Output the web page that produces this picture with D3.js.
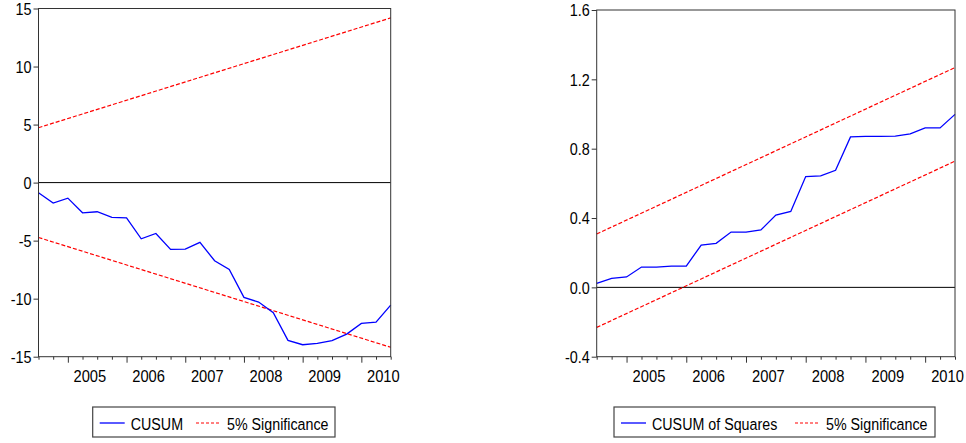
<!DOCTYPE html>
<html>
<head>
<meta charset="utf-8">
<script src="https://cdn.jsdelivr.net/npm/d3@7"></script>
<style>
  body { margin: 0; background: #fff; }
  text { font-family: "Liberation Sans", Arial, sans-serif; fill: #000; }
</style>
</head>
<body>
<div id="chart"></div>
<script>
// quarterly observations
var obs = ["2004Q3","2004Q4",
  "2005Q1","2005Q2","2005Q3","2005Q4",
  "2006Q1","2006Q2","2006Q3","2006Q4",
  "2007Q1","2007Q2","2007Q3","2007Q4",
  "2008Q1","2008Q2","2008Q3","2008Q4",
  "2009Q1","2009Q2","2009Q3","2009Q4",
  "2010Q1","2010Q2","2010Q3"];
var years = ["2005","2006","2007","2008","2009","2010"];

var cusum = [-0.88,-1.77,-1.34,-2.60,-2.51,-3.00,-3.03,-4.84,-4.38,-5.76,-5.73,-5.15,
  -6.73,-7.48,-9.89,-10.29,-11.21,-13.59,-13.97,-13.85,-13.62,-13.05,-12.13,-12.02,-10.55];
var cusumUpper = [4.73, 14.19];   // first obs, last obs
var cusumLower = [-4.73, -14.19];

var cusumSq = [0.023,0.052,0.060,0.117,0.117,0.123,0.123,0.244,0.254,0.319,0.319,0.331,
  0.417,0.438,0.639,0.643,0.675,0.868,0.871,0.871,0.873,0.885,0.920,0.920,0.998];
var sqUpper = [0.308, 1.268];
var sqLower = [-0.231, 0.728];

var cusumTicks = [-15,-10,-5,0,5,10,15];
var sqTicks = [-0.4,0.0,0.4,0.8,1.2,1.6];

var svg = d3.select("#chart").append("svg")
  .attr("width", 966).attr("height", 443);

// eviews text looks a bit condensed, squeeze it horizontally
function squeeze(sel, x, y, s) {
  sel.attr("x", 0).attr("y", 0)
    .attr("transform", "translate(" + x + "," + y + ") scale(" + s + ",1)");
}

// plain hyphen for negatives, like the original
function hyph(f) {
  return function(d) { return f(d).replace("\u2212", "-"); };
}

function panel(opt) {
  var g = svg.append("g");
  var x = d3.scalePoint().domain(obs).range([opt.left, opt.right]);
  var y = d3.scaleLinear().domain(opt.domain).range([opt.bottom, opt.top]);
  var step = x.step();

  // y axis
  var ya = g.append("g")
    .attr("transform", "translate(" + opt.left + ",0)")
    .call(d3.axisLeft(y).tickValues(opt.ticks).tickSize(5).tickFormat(opt.fmt));
  ya.select(".domain").remove();
  ya.selectAll("line").attr("stroke", "#333");
  ya.selectAll("text").style("font-size", "16px").attr("dy", "0.36em")
    .each(function() { squeeze(d3.select(this), -7, 0, 0.9); });

  // x axis ticks (minor every quarter, longer at Q1)
  var xa = g.append("g")
    .attr("transform", "translate(0," + opt.bottom + ")")
    .call(d3.axisBottom(x).tickValues(obs).tickSize(3).tickFormat(""));
  xa.select(".domain").remove();
  xa.selectAll(".tick line")
    .attr("stroke", "#333")
    .attr("y2", function(d) { return d.slice(4) == "Q1" ? 6 : 3; });

  g.selectAll(".yearlab").data(years).enter().append("text")
    .attr("class", "yearlab")
    .attr("text-anchor", "middle")
    .style("font-size", "16px")
    .text(function(d) { return d; })
    .each(function(d) { squeeze(d3.select(this), x(d + "Q1") + 1.5 * step, opt.bottom + 25, 0.92); });

  // zero line
  g.append("line")
    .attr("x1", opt.left).attr("x2", opt.right)
    .attr("y1", y(0)).attr("y2", y(0))
    .attr("stroke", "#000").attr("stroke-width", 1);

  var line = d3.line().x(function(d) { return x(d[0]); }).y(function(d) { return y(d[1]); });
  var first = obs[0], last = obs[obs.length - 1];

  [opt.upper, opt.lower].forEach(function(b) {
    g.append("path")
      .attr("d", line([[first, b[0]], [last, b[1]]]))
      .attr("fill", "none").attr("stroke", "#ff0000")
      .attr("stroke-width", 1.2).attr("stroke-dasharray", "4,2");
  });

  g.append("path")
    .attr("d", line(opt.series.map(function(v, i) { return [obs[i], v]; })))
    .attr("fill", "none").attr("stroke", "#0000ff").attr("stroke-width", 1.3);

  // frame
  g.append("rect")
    .attr("x", opt.left).attr("y", opt.top)
    .attr("width", opt.right - opt.left).attr("height", opt.bottom - opt.top)
    .attr("fill", "none").attr("stroke", "#333").attr("stroke-width", 1);

  // legend
  var lg = g.append("g");
  lg.append("rect")
    .attr("x", opt.leg.x).attr("y", 407)
    .attr("width", opt.leg.w).attr("height", 30)
    .attr("fill", "#fff").attr("stroke", "#444").attr("stroke-width", 1.2);
  lg.append("line")
    .attr("x1", opt.leg.x + 7).attr("x2", opt.leg.x + 32)
    .attr("y1", 423).attr("y2", 423)
    .attr("stroke", "#0000ff").attr("stroke-width", 1.3);
  lg.append("text")
    .style("font-size", "17px").text(opt.name)
    .call(squeeze, opt.leg.x + 38, 430, 0.84);
  lg.append("line")
    .attr("x1", opt.leg.r1).attr("x2", opt.leg.r1 + 24)
    .attr("y1", 423).attr("y2", 423)
    .attr("stroke", "#ff0000").attr("stroke-width", 1.2).attr("stroke-dasharray", "3,2");
  lg.append("text")
    .style("font-size", "17px").text("5% Significance")
    .call(squeeze, opt.leg.r1 + 31, 430, 0.84);
}

panel({
  left: 38.5, right: 390.7, top: 8.5, bottom: 356.7,
  domain: [-15, 15], ticks: cusumTicks, fmt: hyph(d3.format("d")),
  series: cusum, upper: cusumUpper, lower: cusumLower,
  name: "CUSUM",
  leg: { x: 92.7, w: 242.3, r1: 196 }
});

panel({
  left: 596.7, right: 955, top: 10, bottom: 356.7,
  domain: [-0.4, 1.6], ticks: sqTicks, fmt: hyph(d3.format(".1f")),
  series: cusumSq, upper: sqUpper, lower: sqLower,
  name: "CUSUM of Squares",
  leg: { x: 614, w: 321, r1: 795 }
});
</script>
</body>
</html>
